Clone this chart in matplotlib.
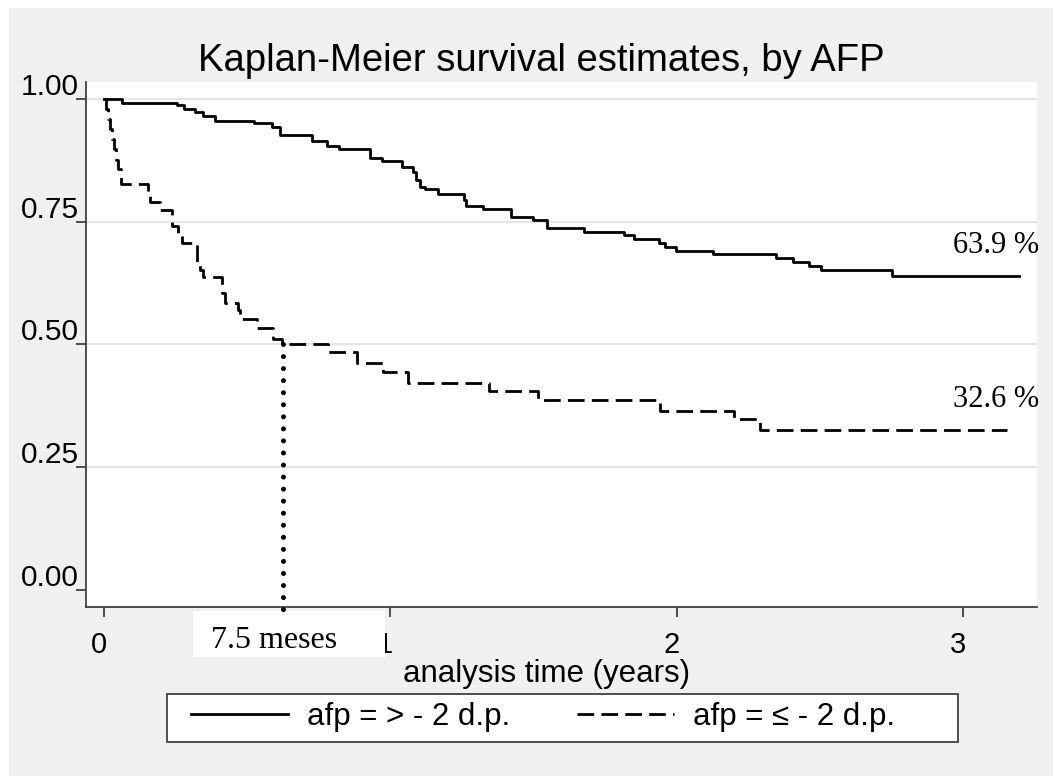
import matplotlib
matplotlib.use('Agg')
import matplotlib.pyplot as plt
from matplotlib.patches import Rectangle
from matplotlib.transforms import ScaledTranslation

# Kaplan-Meier step points (years, survival)
years_hi = [0, 0.063, 0.255, 0.279, 0.318, 0.346, 0.388, 0.524, 0.586, 0.614,
            0.726, 0.778, 0.820, 0.928, 0.970, 1.040, 1.079, 1.089, 1.103, 1.120,
            1.166, 1.257, 1.264, 1.323, 1.421, 1.497, 1.546, 1.675, 1.815, 1.850,
            1.937, 1.958, 1.997, 2.126, 2.349, 2.408, 2.464, 2.503, 2.754, 3.197]
surv_hi = [1.0, 0.993, 0.988, 0.980, 0.973, 0.965, 0.955, 0.951, 0.943, 0.926,
           0.914, 0.904, 0.898, 0.881, 0.875, 0.861, 0.852, 0.836, 0.822, 0.816,
           0.807, 0.795, 0.783, 0.777, 0.760, 0.754, 0.738, 0.730, 0.723, 0.715,
           0.707, 0.699, 0.691, 0.684, 0.676, 0.668, 0.660, 0.652, 0.639, 0.639]

years_lo = [0, 0.007, 0.014, 0.021, 0.028, 0.035, 0.042, 0.049, 0.059, 0.154,
            0.161, 0.195, 0.237, 0.258, 0.272, 0.325, 0.335, 0.345, 0.412, 0.422,
            0.468, 0.475, 0.534, 0.590, 0.621, 0.782, 0.883, 0.974, 1.061, 1.344,
            1.515, 1.941, 2.202, 2.290, 3.155]
surv_lo = [1.0, 0.980, 0.959, 0.939, 0.918, 0.898, 0.877, 0.857, 0.828, 0.811,
           0.791, 0.775, 0.742, 0.723, 0.707, 0.668, 0.652, 0.637, 0.605, 0.584,
           0.570, 0.551, 0.533, 0.512, 0.500, 0.484, 0.463, 0.443, 0.422, 0.406,
           0.387, 0.365, 0.348, 0.326, 0.326]

labels = ['afp = > - 2 d.p.', 'afp = \u2264 - 2 d.p.']
median_lo = 7.5 / 12
end_labels = ['63.9 %', '32.6 %']
end_values = [0.639, 0.326]
xticks = [0, 1, 2, 3]
yticks = [0.0, 0.25, 0.5, 0.75, 1.0]

sans = 'Liberation Sans'
serif = 'Liberation Serif'
axcol = '#404040'

fig = plt.figure(figsize=(10.53, 7.76), dpi=100)
fig.patch.set_facecolor('white')
fig.add_artist(Rectangle((9 / 1053, 0), 1044 / 1053, 768 / 776, transform=fig.transFigure,
                         facecolor='#f0f0f0', edgecolor='none', zorder=-5))

ax = fig.add_axes([86 / 1053, 169 / 776, 951 / 1053, 525 / 776])
ax.set_facecolor('white')

for y in yticks[1:]:
    ax.axhline(y, color='#e4e4e4', lw=1.6, zorder=0)

l1, = ax.step(years_hi, surv_hi, where='post', color='black', lw=2.0, zorder=3)
l2, = ax.step(years_lo, surv_lo, where='post', color='black', lw=2.0,
              linestyle=(0, (6, 2.6)), zorder=3)

ax.set_xlim(-0.063, 3.259)
ax.set_ylim(-0.035, 1.035)

for s in ['top', 'right']:
    ax.spines[s].set_visible(False)
for s in ['left', 'bottom']:
    ax.spines[s].set_color(axcol)
    ax.spines[s].set_linewidth(1.3)

ax.set_xticks(xticks)
ax.set_xticklabels([str(v) for v in xticks], fontsize=21, family=sans)
ax.set_yticks(yticks)
ax.set_yticklabels(['%.2f' % v for v in yticks], fontsize=21.5, family=sans)
ax.tick_params(axis='both', length=7.2, width=1.3, color=axcol)
ax.tick_params(axis='x', pad=10)
ax.tick_params(axis='y', pad=-2)
for lab in ax.get_xticklabels():
    lab.set_transform(lab.get_transform() + ScaledTranslation(-5 / 100, 0, fig.dpi_scale_trans))
for lab in ax.get_yticklabels():
    lab.set_va('baseline')
    lab.set_transform(lab.get_transform() + ScaledTranslation(0, 4 / 100, fig.dpi_scale_trans))

# end-of-curve percentages
for v, txt in zip(end_values, end_labels):
    ax.text(2.965, v + 0.047, txt, family=serif, fontsize=22, ha='left', va='baseline')

# median survival marker
ax.add_patch(Rectangle((0.1125, -0.0952), 0.2019, 0.0876, transform=ax.transAxes,
                       facecolor='white', edgecolor='none', clip_on=False, zorder=10))
ax.plot([median_lo, median_lo], [0.5, -0.049], color='black', lw=3.6,
        linestyle=(0, (0.01, 2.4)), dash_capstyle='round', clip_on=False, zorder=11)
ax.text(0.198, -0.078, '7.5 meses', transform=ax.transAxes, family=serif, fontsize=23,
        ha='center', va='baseline', zorder=12)

fig.text(541 / 1053, 705 / 776, 'Kaplan-Meier survival estimates, by AFP',
         family=sans, fontsize=27.5, ha='center', va='baseline')
fig.text(547 / 1053, 94 / 776, 'analysis time (years)', family=sans, fontsize=22.5,
         ha='center', va='baseline')

# legend
fig.add_artist(Rectangle((167 / 1053, 34 / 776), 791 / 1053, 48 / 776, transform=fig.transFigure,
                         facecolor='white', edgecolor=axcol, lw=1.3, zorder=1))
leg = fig.legend([l1, l2], labels, loc='center left', bbox_to_anchor=(191 / 1053, 59 / 776),
                 ncol=2, frameon=False, borderpad=0, borderaxespad=0,
                 handlelength=3.1, handletextpad=0.6, columnspacing=2.15,
                 prop={'family': sans, 'size': 22.5})
leg.set_zorder(2)

fig.savefig('out.png', dpi=100, facecolor=fig.get_facecolor())
